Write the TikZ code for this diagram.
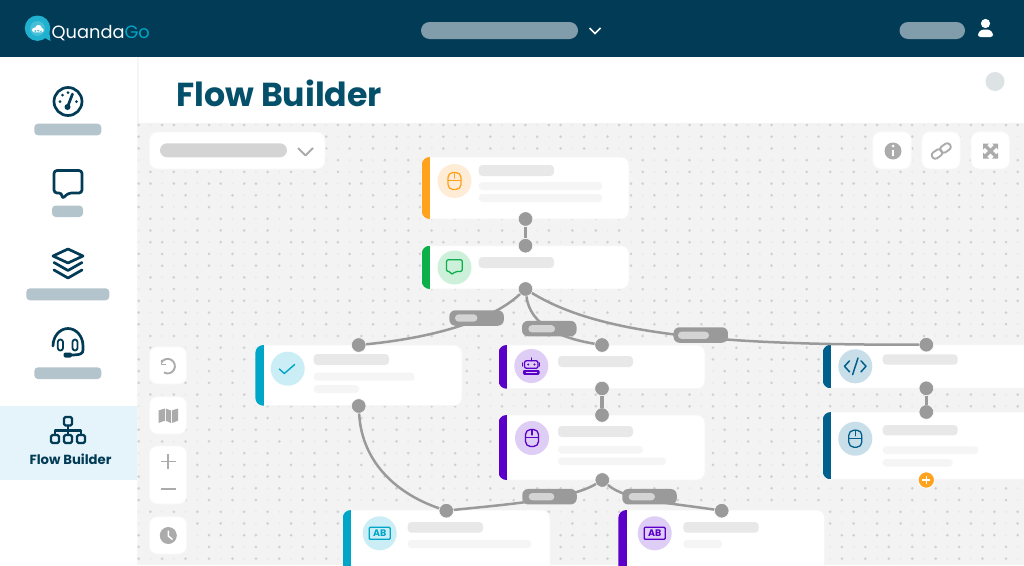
\documentclass[tikz,border=0pt]{standalone}
\usepackage{fontspec}
\setmainfont{Poppins}
\usetikzlibrary{positioning}
\definecolor{navy}{HTML}{023B56}
\definecolor{inkteal}{HTML}{04506B}
\definecolor{panelblue}{HTML}{E5F4FA}
\definecolor{canvasgrey}{HTML}{F3F3F3}
\definecolor{wire}{HTML}{9A9A9A}
\definecolor{toolgrey}{HTML}{ABABAB}
\definecolor{dotgrey}{HTML}{DDE2E4}
\definecolor{orangeA}{HTML}{FFA31F}
\definecolor{orangeB}{HTML}{FFECD6}
\definecolor{greenA}{HTML}{0BB04B}
\definecolor{greenB}{HTML}{CCF0DA}
\definecolor{violetA}{HTML}{5A00C8}
\definecolor{violetB}{HTML}{DECDF4}
\definecolor{cyanA}{HTML}{00A6C8}
\definecolor{cyanB}{HTML}{CBEDF5}
\definecolor{blueA}{HTML}{005F8C}
\definecolor{blueB}{HTML}{C8DFE9}
\tikzset{port/.style = {fill=wire, draw=white, line width=.5, circle, inner sep=0, minimum size=14.5}}
\tikzset{flow/.style = {draw=wire, line width=2.5}}
\tikzset{tag/.style = {fill=wire, rounded corners=6, inner sep=0, minimum width=54.5, minimum height=15.5}}
\tikzset{taginner/.style = {fill=black!17, rounded corners=3.5, inner sep=0, minimum height=7.2}}
\tikzset{navicon/.style = {draw=navy, line width=2.7, line join=round, line cap=round}}
\tikzset{toolicon/.style = {draw=toolgrey, line width=1.9, line join=round}}
\tikzset{tool/.style = {fill=white, draw=black!3, line width=.8, rounded corners=8}}
\tikzset{glyph/.style = {line width=1.3, line join=round, line cap=round}}
% card: name, left, top, right, bottom, colour
\newcommand{\flowcard}[6]{
  \filldraw [white, draw=black!4, line width=.8, rounded corners=8] (#2,#3) rectangle (#4,#5);
  \begin{scope}
    \clip [rounded corners=8] (#2,#3) rectangle (#4,#5);
    \fill [#6] (#2,#3) rectangle ({#2+8.7},#5);
  \end{scope}
  \coordinate (#1) at (#2,#3);
}
% skeleton line: left, top, right, bottom, colour
\newcommand{\skeleton}[5]{\fill [#5, rounded corners=3.7] (#1,#2) rectangle (#3,#4);}
\newcommand{\mouseglyph}[3]{
  \draw [glyph, #3, rounded corners=5] ({#1-6.5},{#2-8.5}) rectangle ({#1+6.5},{#2+8.5});
  \draw [glyph, #3] ({#1-6.5},{#2-.5}) -- ({#1+6.5},{#2-.5});
  \draw [glyph, #3] (#1,{#2-8.5}) -- (#1,{#2-3});
}
\newcommand{\abglyph}[3]{
  \draw [glyph, #3, rounded corners=1] ({#1-10.5},{#2-6}) rectangle ({#1+10.5},{#2+6});
  \node [#3, inner sep=0, font=\bfseries\fontsize{9.5}{9.5}\selectfont] at (#1,#2) {AB};
}
\begin{document}
\begin{tikzpicture}[x=1pt,y=-1pt]
  \useasboundingbox (0,0) rectangle (1024,565);
  \clip (0,0) rectangle (1024,565);

  % canvas and dots
  \fill [white] (0,0) rectangle (1024,565);
  \fill [canvasgrey] (138,123) rectangle (1024,565);
  \fill [black!4] (136.5,57) rectangle (138.5,565);
  \fill [panelblue] (0,406) rectangle (137,480);
  \foreach \i in {0,...,75}
    \foreach \j in {0,...,37} {
      \pgfmathtruncatemacro\dotdark{mod(\j,5)==0 ? (mod(\i+2+round(2*\j/5),3)==0 ? 0 : 1) : (mod(\j,5)<3 ? (mod(\i,2)==0 ? 1 : 0) : (mod(\i,2)==1 ? 1 : 0))}
      \ifnum\dotdark=1
        \fill [black!18] ({138.7+11.72*\i},{125+11.72*\j}) circle (1.5);
      \else
        \fill [black!8] ({138.7+11.72*\i},{125+11.72*\j}) circle (1.3);
      \fi
    }

  % header
  \fill [navy] (0,0) rectangle (1024,57);
  \fill [cyanA!88!white] (37.5,28.2) circle (12.7);
  \fill [cyanA!88!white] (43,37) -- (50.5,41) -- (49,30) -- cycle;
  \fill [cyanA!72!white] (37.5,28.5) circle (7.5);
  \fill [white] (34.5,30) circle (2.4) (38.5,28.3) circle (3.4) (41.5,30.2) circle (2.2) (34.5,30) rectangle (41.5,32.4);
  \node [anchor=base west, inner sep=0, font=\fontsize{17.8}{17.8}\selectfont] (logo) at (51.5,38.5) {\textcolor{white}{Quanda}\textcolor{cyanA}{Go}};
  \fill [navy!50!white, rounded corners=8.5] (421,22) rectangle (578,39);
  \draw [white, line width=1.7] (589.5,28) -- (595,33.5) -- (600.5,28);
  \fill [navy!50!white, rounded corners=8.5] (899.5,22) rectangle (965,39);
  \fill [white] (985.5,23.5) circle (4.6);
  \fill [white, rounded corners=2.5] (978,37) -- (978,33) -- (981.5,29.5) -- (989.5,29.5) -- (993,33) -- (993,37) -- cycle;

  % title and sidebar
  \node [anchor=base west, inner sep=0, text=inkteal, font=\bfseries\fontsize{33.2}{33.2}\selectfont] (title) at (176,106) {Flow Builder};
  \fill [dotgrey] (995,81.5) circle (9.5);

  \draw [navicon] (68,101.5) circle (14);
  \draw [navicon] (67.5,107) -- (72.5,94);
  \fill [navy] (67.5,107) circle (3);
  \fill [navy] (60,101.5) circle (1.5) (62.5,95) circle (1.5) (68,92.5) circle (1.5) (76.5,101.5) circle (1.5);
  \skeleton{34.3}{123.7}{101.3}{135.3}{navy!30!white}

  \draw [navicon, rounded corners=3] (54,170.5) -- (82,170.5) -- (82,193) -- (68.5,193) -- (62,199) -- (62,193) -- (54,193) -- cycle;
  \skeleton{52}{205.5}{83}{217}{navy!30!white}

  \draw [navicon] (68,249) -- (83,256) -- (68,263) -- (53,256) -- cycle;
  \draw [navicon] (54,262.5) -- (68,270.5) -- (82,262.5);
  \draw [navicon] (54,270) -- (68,278) -- (82,270);
  \skeleton{26.3}{288.3}{109.3}{300.3}{navy!30!white}

  \draw [navicon] (53,346) arc (180:360:15 and 17.5) -- (83,350) .. controls (83,354) and (80,355) .. (70,355);
  \fill [navy, rounded corners=2] (63.5,352.5) rectangle (72,357.5);
  \draw [navicon, line width=1.8, rounded corners=2.5] (57.8,339.5) rectangle (63,350.5);
  \draw [navicon, line width=1.8, rounded corners=2.5] (72.5,339.5) rectangle (77.5,350.5);
  \skeleton{34.3}{367.3}{101.3}{379}{navy!30!white}

  \draw [navicon, line width=2.3, rounded corners=1.5] (64,417) rectangle (72,425.5);
  \draw [navicon, line width=2.3, rounded corners=1.5] (51,435) rectangle (59,443);
  \draw [navicon, line width=2.3, rounded corners=1.5] (64,435) rectangle (72,443);
  \draw [navicon, line width=2.3, rounded corners=1.5] (77,435) rectangle (85,443);
  \draw [navicon, line width=2.3] (68,425.5) -- (68,435);
  \draw [navicon, line width=2.3] (55,435) -- (55,430.5) -- (81,430.5) -- (81,435);
  \node [inner sep=0, text=navy, font=\bfseries\fontsize{13.2}{13.2}\selectfont] (flowitem) at (70.5,459.5) {Flow Builder};

  % tool buttons
  \fill [tool] (149.3,132) rectangle (325,169);
  \fill [black!17, rounded corners=7] (160,143.3) rectangle (287,157.3);
  \draw [toolicon] (298,148) -- (305.5,155.5) -- (313,148);
  \fill [tool] (872.7,131.7) rectangle (911.3,169);
  \fill [toolgrey] (893,151) circle (8.5);
  \draw [white, line width=2.4] (893,149.5) -- (893,156);
  \fill [white] (893,146) circle (1.5);
  \fill [tool] (921.7,131.7) rectangle (960.3,169);
  \draw [toolicon, rounded corners=3, rotate around={35:(937,154)}] (931.5,150.5) rectangle (942.5,157.5);
  \draw [toolicon, rounded corners=3, rotate around={35:(945.5,148)}] (940,144.5) rectangle (951,151.5);
  \fill [tool] (971,131.7) rectangle (1009.7,169);
  \fill [toolgrey] (983,143.5) -- (989,143.5) -- (983,149.5) -- cycle;
  \fill [toolgrey] (998,143.5) -- (992,143.5) -- (998,149.5) -- cycle;
  \fill [toolgrey] (983,158.5) -- (989,158.5) -- (983,152.5) -- cycle;
  \fill [toolgrey] (998,158.5) -- (992,158.5) -- (998,152.5) -- cycle;
  \draw [toolgrey, line width=3.4] (985,145.5) -- (996,156.5) (996,145.5) -- (985,156.5);

  \fill [tool] (149.3,346.7) rectangle (186.7,384);
  \draw [toolicon] (161.3,362.5) arc (210:480:7.3);
  \draw [toolicon, line width=1.6] (161.3,359.5) -- (161.3,364.5) -- (166.3,364.5);
  \fill [tool] (149.3,396.7) rectangle (186.7,434);
  \fill [toolgrey] (158.5,410.5) -- (164.8,408.5) -- (164.8,420.7) -- (158.5,423) -- cycle;
  \fill [toolgrey] (165.8,408.5) -- (170.8,410.5) -- (170.8,423) -- (165.8,420.7) -- cycle;
  \fill [toolgrey] (171.8,410.5) -- (178,408.5) -- (178,420.7) -- (171.8,423) -- cycle;
  \fill [tool] (149.3,446) rectangle (186.7,504);
  \draw [toolicon] (161,461.5) -- (175.5,461.5) (168.2,454.2) -- (168.2,468.7);
  \draw [toolicon] (161,489) -- (175.5,489);
  \fill [tool] (149.3,516.7) rectangle (186.7,554);
  \fill [toolgrey] (168.3,535.5) circle (8.5);
  \draw [white, line width=1.5] (168.3,530.5) -- (168.3,536) -- (172.5,539.5);

  % cards
  \flowcard{clickcard}{421.7}{157}{629}{219}{orangeA}
  \fill [orangeB] (454.5,181) circle (17);
  \mouseglyph{454.5}{181}{orangeA}
  \skeleton{478.7}{165}{554}{176}{black!9}
  \skeleton{478.7}{182}{602}{190}{black!4}
  \skeleton{478.7}{194}{602}{202}{black!4}

  \flowcard{chatcard}{421.7}{245.7}{629}{289}{greenA}
  \fill [greenB] (454.5,267.5) circle (17);
  \draw [glyph, greenA, rounded corners=2] (446.5,259.7) -- (462.3,259.7) -- (462.3,271.5) -- (455,271.5) -- (451.5,275) -- (451,271.5) -- (446.5,271.5) -- cycle;
  \skeleton{478.7}{257}{554}{268}{black!9}

  \flowcard{checkcard}{255.3}{345}{462}{405.7}{cyanA}
  \fill [cyanB] (287.7,368.7) circle (17);
  \draw [glyph, cyanA, line width=1.4] (279.3,369) -- (284.3,373.5) -- (294.7,364.5);
  \skeleton{313.7}{354}{389}{365}{black!9}
  \skeleton{313.7}{372.7}{414.7}{380.7}{black!4}
  \skeleton{313.7}{385}{359}{393}{black!4}

  \flowcard{robotcard}{498.5}{345}{705}{388.7}{violetA}
  \fill [violetB] (531.3,366) circle (17);
  \draw [glyph, violetA, rounded corners=2] (524.5,360.7) rectangle (538,368.3);
  \draw [glyph, violetA] (531.3,360.7) -- (531.3,358);
  \draw [glyph, violetA] (522.8,363) -- (522.8,366) (539.8,363) -- (539.8,366);
  \fill [violetA] (528.2,364.5) circle (1.1) (534.4,364.5) circle (1.1);
  \fill [violetA, rounded corners=1.2] (523,370) rectangle (539.5,374.8);
  \fill [violetB] (526,371.8) rectangle (536.5,373);
  \skeleton{558}{356}{633}{367}{black!9}

  \flowcard{clicktwocard}{498.5}{415}{705}{480}{violetA}
  \fill [violetB] (532,438) circle (17);
  \mouseglyph{532}{438}{violetA}
  \skeleton{558}{426}{633}{437}{black!9}
  \skeleton{558}{446}{643}{453.5}{black!4}
  \skeleton{558}{457.5}{666}{465}{black!4}

  \flowcard{codecard}{822.7}{344.7}{1040}{388.3}{blueA}
  \fill [blueB] (855.3,366.3) circle (17);
  \draw [glyph, blueA, line width=1.5] (849.5,360.8) -- (844.5,366.3) -- (849.5,371.8);
  \draw [glyph, blueA, line width=1.5] (861,360.8) -- (866,366.3) -- (861,371.8);
  \draw [glyph, blueA, line width=1.5] (858,358) -- (852.6,374.6);
  \skeleton{882.7}{354.3}{957.7}{364.7}{black!9}

  \flowcard{clickthreecard}{822.7}{412}{1040}{479.3}{blueA}
  \fill [blueB] (855.3,438.7) circle (17);
  \mouseglyph{855.3}{438.7}{blueA}
  \skeleton{882.7}{425}{957.7}{435.3}{black!9}
  \skeleton{882.7}{446.3}{978.3}{454}{black!4}
  \skeleton{882.7}{459}{952.7}{466.7}{black!4}

  \flowcard{abcard}{342.7}{510}{550}{580}{cyanA}
  \fill [cyanB] (379.7,533.3) circle (17);
  \abglyph{379.7}{533.3}{cyanA}
  \skeleton{407.7}{522}{483}{532.7}{black!9}
  \skeleton{407.7}{540}{531.3}{548}{black!4}

  \flowcard{abtwocard}{618.3}{510}{824.7}{580}{violetA}
  \fill [violetB] (654.7,533.3) circle (17);
  \abglyph{654.7}{533.3}{violetA}
  \skeleton{683.3}{522}{758.7}{532.7}{black!9}
  \skeleton{683.3}{540}{722.3}{548}{black!4}

  % ports
  \node [port] at (525.5,219) (clickout) {};
  \node [port] at (525.5,245.7) (chatin) {};
  \node [port] at (525.5,289) (chatout) {};
  \node [port] at (358.7,345) (checkin) {};
  \node [port] at (358.7,406) (checkout) {};
  \node [port] at (602,345) (robotin) {};
  \node [port] at (602,388.5) (robotout) {};
  \node [port] at (602,415) (clicktwoin) {};
  \node [port] at (602.3,480) (clicktwoout) {};
  \node [port] at (926.3,344.7) (codein) {};
  \node [port] at (926.3,388.3) (codeout) {};
  \node [port] at (926.3,412) (clickthreein) {};
  \node [port] at (446.3,510.7) (abin) {};
  \node [port] at (721.7,510.7) (abtwoin) {};

  \node [fill=orangeA, draw=white, line width=1, circle, inner sep=0, minimum size=16.5] at (926.3,480) (addstep) {};
  \draw [white, line width=1.1] (922.3,480) -- (930.3,480) (926.3,476) -- (926.3,484);

  % connectors
  \draw [flow, line width=3.2] (clickout) -- (chatin);
  \draw [flow, line width=3.2] (robotout) -- (clicktwoin);
  \draw [flow, line width=3.2] (codeout) -- (clickthreein);
  \draw [flow] (chatout) .. controls (490,322) and (430,338) .. (checkin);
  \draw [flow] (chatout) .. controls (530,325) and (560,338) .. (robotin);
  \draw [flow] (chatout) .. controls (600,335) and (720,345) .. (codein);
  \draw [flow] (checkout) .. controls (362,465) and (400,495) .. (abin);
  \draw [flow] (clicktwoout) .. controls (570,500) and (500,505) .. (abin);
  \draw [flow] (clicktwoout) .. controls (625,500) and (670,503) .. (abtwoin);

  % tags on the connectors
  \node [tag] at (476.6,318) (tagcheck) {};
  \node [tag] at (549.3,328.6) (tagrobot) {};
  \node [tag] at (700.7,335) (tagcode) {};
  \node [tag] at (549.5,496.7) (tagab) {};
  \node [tag] at (649.5,496.7) (tagabtwo) {};
  \node [taginner, minimum width=22.3] at (466.2,318) (tagcheckbar) {};
  \node [taginner, minimum width=26.7] at (541.7,328.8) (tagrobotbar) {};
  \node [taginner, minimum width=31] at (693.5,335.3) (tagcodebar) {};
  \node [taginner, minimum width=25.6] at (541.5,496.7) (tagabbar) {};
  \node [taginner, minimum width=26.3] at (641.8,496.7) (tagabtwobar) {};
\end{tikzpicture}
\end{document}
